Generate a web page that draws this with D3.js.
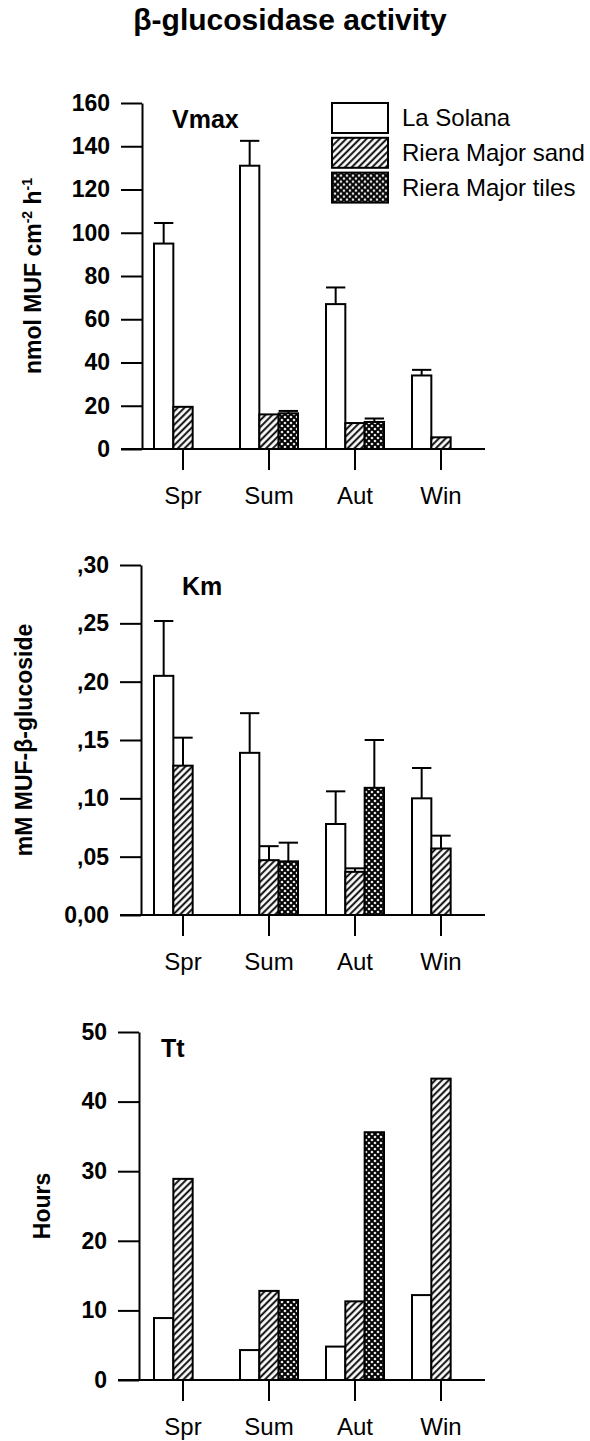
<!DOCTYPE html>
<html>
<head>
<meta charset="utf-8">
<script src="https://cdn.jsdelivr.net/npm/d3@7"></script>
<style>
	body { margin: 0; background: #fff; }
	svg { display: block; font-family: "Liberation Sans", Arial, sans-serif; }
</style>
</head>
<body>
<script>
// Categories
const seasons = ["Spr", "Sum", "Aut", "Win"];
const sites = ["La Solana", "Riera Major sand", "Riera Major tiles"];

// Vmax (nmol MUF cm-2 h-1), mean and SE
const vmaxSolana = [95, 131, 67, 34];
const vmaxSolanaErr = [9.5, 11.5, 7.7, 2.6];
const vmaxSand = [19.5, 16, 12, 5.4];
const vmaxSandErr = [0, 0, 0, 0];
const vmaxTiles = [null, 16.5, 12.5, null];
const vmaxTilesErr = [null, 1.1, 1.6, null];

// Km (mM MUF-b-glucoside)
const kmSolana = [0.205, 0.139, 0.078, 0.1];
const kmSolanaErr = [0.047, 0.034, 0.028, 0.026];
const kmSand = [0.128, 0.047, 0.037, 0.057];
const kmSandErr = [0.024, 0.012, 0.003, 0.011];
const kmTiles = [null, 0.046, 0.109, null];
const kmTilesErr = [null, 0.016, 0.041, null];

// Tt (hours), no error bars
const ttSolana = [8.9, 4.3, 4.8, 12.2];
const ttSand = [28.9, 12.8, 11.3, 43.3];
const ttTiles = [null, 11.5, 35.6, null];

const vmaxTicks = [0, 20, 40, 60, 80, 100, 120, 140, 160];
const kmTicks = [0, 0.05, 0.1, 0.15, 0.2, 0.25, 0.3];
const ttTicks = [0, 10, 20, 30, 40, 50];

const width = 590;
const height = 1441;

const svg = d3
	.select("body")
	.append("svg")
	.attr("width", width)
	.attr("height", height);

// Fill patterns
const defs = svg.append("defs");

const hatch = defs
	.append("pattern")
	.attr("id", "hatch")
	.attr("patternUnits", "userSpaceOnUse")
	.attr("width", 4.8)
	.attr("height", 4.8)
	.attr("patternTransform", "rotate(45)");
hatch.append("rect").attr("width", 4.8).attr("height", 4.8).attr("fill", "#fff");
hatch
	.append("line")
	.attr("x1", 1.2)
	.attr("x2", 1.2)
	.attr("y1", 0)
	.attr("y2", 4.8)
	.attr("stroke", "#000")
	.attr("stroke-width", 1.9);

const tiles = defs
	.append("pattern")
	.attr("id", "tiles")
	.attr("patternUnits", "userSpaceOnUse")
	.attr("width", 6)
	.attr("height", 6);
tiles.append("rect").attr("width", 6).attr("height", 6).attr("fill", "#000");
const diamond = (cx, cy, r) =>
	`M${cx},${cy - r}L${cx + r},${cy}L${cx},${cy + r}L${cx - r},${cy}Z`;
[[3, 3], [0, 0], [6, 0], [0, 6], [6, 6]].forEach(([cx, cy]) => {
	tiles.append("path").attr("d", diamond(cx, cy, 1.6)).attr("fill", "#fff");
});

const fills = ["#fff", "url(#hatch)", "url(#tiles)"];

// Title
svg.append("text")
	.attr("x", 290)
	.attr("y", 30)
	.attr("text-anchor", "middle")
	.style("font-size", "30px")
	.style("font-weight", "bold")
	.text("β-glucosidase activity");

// Shared x scales
const x0 = d3.scaleBand().domain(seasons).range([140, 484]);
const x1 = d3.scaleBand().domain(sites).range([14, 72]);

const panels = [
	{
		label: "Vmax", labelX: 172, labelDy: 25,
		series: [vmaxSolana, vmaxSand, vmaxTiles],
		errors: [vmaxSolanaErr, vmaxSandErr, vmaxTilesErr],
		domain: [0, 160], ticks: vmaxTicks, fmt: d3.format("d"),
		top: 103, bottom: 449, axisX: 142, titleX: 41,
		yTitle: "nmol",
	},
	{
		label: "Km", labelX: 182, labelDy: 30,
		series: [kmSolana, kmSand, kmTiles],
		errors: [kmSolanaErr, kmSandErr, kmTilesErr],
		domain: [0, 0.3], ticks: kmTicks,
		fmt: (d) => (d === 0 ? "0,00" : "," + d3.format(".2f")(d).slice(2)),
		top: 565, bottom: 915, axisX: 141, titleX: 32,
		yTitle: "mM MUF-β-glucoside",
	},
	{
		label: "Tt", labelX: 161, labelDy: 25,
		series: [ttSolana, ttSand, ttTiles],
		errors: null,
		domain: [0, 50], ticks: ttTicks, fmt: d3.format("d"),
		top: 1032, bottom: 1380, axisX: 139, titleX: 50,
		yTitle: "Hours",
	},
];

panels.forEach((p) => {
	const y = d3.scaleLinear().domain(p.domain).range([p.bottom, p.top]);
	const g = svg.append("g");

	// Bars
	const bars = [];
	seasons.forEach((s, i) => {
		sites.forEach((site, k) => {
			const v = p.series[k][i];
			if (v == null) return;
			bars.push({
				season: s,
				site: site,
				k: k,
				value: v,
				err: p.errors ? p.errors[k][i] : 0,
			});
		});
	});

	// Error bars (drawn first, bar outline covers the base)
	const errG = g.append("g").attr("stroke", "#000").attr("stroke-width", 2);
	bars.filter((d) => d.err > 0).forEach((d) => {
		const left = x0(d.season) + x1(d.site);
		const cx = left + x1.bandwidth() / 2;
		errG.append("line")
			.attr("x1", cx).attr("x2", cx)
			.attr("y1", y(d.value)).attr("y2", y(d.value + d.err));
		errG.append("line")
			.attr("x1", left).attr("x2", left + x1.bandwidth())
			.attr("y1", y(d.value + d.err)).attr("y2", y(d.value + d.err));
	});

	g.append("g")
		.selectAll("rect")
		.data(bars)
		.join("rect")
		.attr("x", (d) => x0(d.season) + x1(d.site))
		.attr("y", (d) => y(d.value))
		.attr("width", x1.bandwidth())
		.attr("height", (d) => y(0) - y(d.value))
		.attr("fill", (d) => fills[d.k])
		.attr("stroke", "#000")
		.attr("stroke-width", 2);

	// Y axis
	const yAxis = g
		.append("g")
		.attr("transform", `translate(${p.axisX},0)`)
		.call(
			d3.axisLeft(y)
				.tickValues(p.ticks)
				.tickFormat(p.fmt)
				.tickSize(21)
				.tickSizeOuter(0)
				.tickPadding(11)
		);
	yAxis.selectAll("path, line").attr("stroke", "#000").attr("stroke-width", 2);
	yAxis.selectAll("text")
		.attr("fill", "#000")
		.style("font-size", "23px")
		.style("font-weight", "bold")
		.style("font-family", "'Liberation Sans', Arial, sans-serif");

	// X axis
	const xAxis = g
		.append("g")
		.attr("transform", `translate(0,${p.bottom})`)
		.call(d3.axisBottom(x0).tickSize(21).tickSizeOuter(0).tickPadding(17));
	xAxis.select(".domain").remove();
	xAxis.append("line")
		.attr("x1", p.axisX - 21).attr("x2", 485)
		.attr("stroke", "#000").attr("stroke-width", 2);
	xAxis.selectAll("line").attr("stroke", "#000").attr("stroke-width", 2);
	xAxis.selectAll("text")
		.attr("fill", "#000")
		.style("font-size", "24px")
		.style("font-family", "'Liberation Sans', Arial, sans-serif");

	// Panel label
	g.append("text")
		.attr("x", p.labelX)
		.attr("y", p.top + p.labelDy)
		.style("font-size", "25px")
		.style("font-weight", "bold")
		.text(p.label);

	// Y title
	const yt = g
		.append("text")
		.attr("transform", `translate(${p.titleX},${(p.top + p.bottom) / 2}) rotate(-90)`)
		.attr("text-anchor", "middle")
		.style("font-size", "23px")
		.style("font-weight", "bold");
	if (p.yTitle === "nmol") {
		yt.append("tspan").text("nmol MUF cm");
		yt.append("tspan").attr("dy", -9).style("font-size", "14px").text("-2");
		yt.append("tspan").attr("dy", 9).text(" h");
		yt.append("tspan").attr("dy", -9).style("font-size", "14px").text("-1");
	} else {
		yt.text(p.yTitle);
	}
});

// Legend
const legend = svg.append("g").attr("transform", "translate(332,103)");
sites.forEach((site, k) => {
	const row = legend.append("g").attr("transform", `translate(0,${k * 34.8})`);
	row.append("rect")
		.attr("width", 56)
		.attr("height", 30)
		.attr("fill", fills[k])
		.attr("stroke", "#000")
		.attr("stroke-width", 2);
	row.append("text")
		.attr("x", 70)
		.attr("y", 15)
		.attr("dy", "0.35em")
		.style("font-size", "24px")
		.text(site);
});
</script>
</body>
</html>
